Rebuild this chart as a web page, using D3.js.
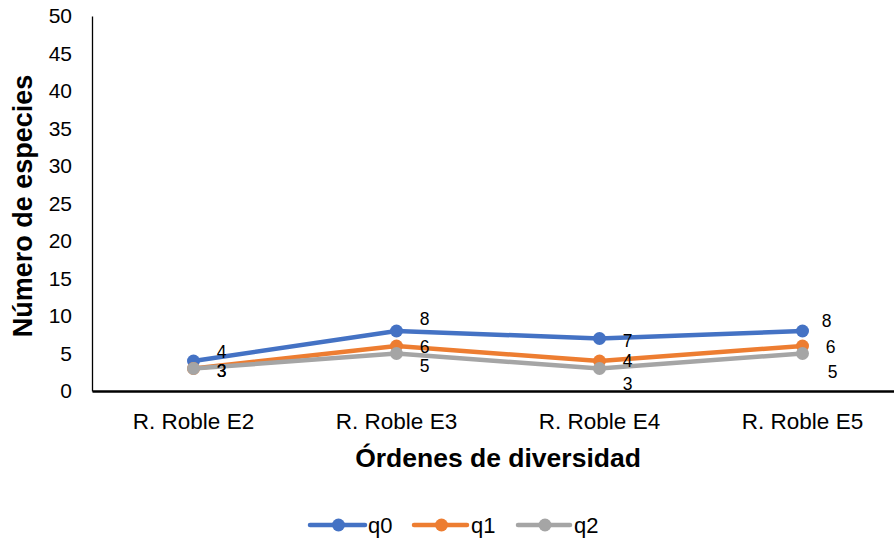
<!DOCTYPE html>
<html><head><meta charset="utf-8">
<script src="https://cdn.jsdelivr.net/npm/d3@7"></script>
<style>body{margin:0;background:#fff;}svg{display:block;font-family:"Liberation Sans",Arial,sans-serif;}</style>
</head><body>
<script>
const categories = ["R. Roble E2","R. Roble E3","R. Roble E4","R. Roble E5"];
const seriesNames = ["q0","q1","q2"];
const q0 = [4, 8, 7, 8];
const q1 = [3, 6, 4, 6];
const q2 = [3, 5, 3, 5];
const yTicks = [0,5,10,15,20,25,30,35,40,45,50];
const colors = ["#4472C4","#ED7D31","#A5A5A5"];
// label nudges (px) per series/point, visual layout only
const labelDy = [[-9,-12,2,-10],[2,1,0,1],[2,12,15,18]];
const labelDx = [[28,28,28,24],[28,28,28,28],[28,28,28,30]];

const W=894,H=544;
const svg=d3.select("body").append("svg").attr("width",W).attr("height",H);
const x=d3.scaleBand().domain(categories).range([92,904]);
const y=d3.scaleLinear().domain([0,50]).range([391,16]);

// y axis
const ya=svg.append("g").attr("transform","translate(92,0)").call(d3.axisLeft(y).tickValues(yTicks).tickSize(0).tickPadding(20));
ya.select(".domain").attr("stroke","#000").attr("stroke-width",1.3);
ya.selectAll("text").attr("font-size",21).attr("fill","#000").attr("font-family","Liberation Sans, Arial, sans-serif");
// x axis
const xa=svg.append("g").attr("transform","translate(0,391)").call(d3.axisBottom(x).tickSize(0).tickPadding(20));
xa.select(".domain").attr("stroke","#000").attr("stroke-width",2.5);
xa.selectAll("text").attr("font-size",22.5).attr("fill","#000").attr("font-family","Liberation Sans, Arial, sans-serif").attr("y",30).attr("dy","0.35em");

const data=[q0,q1,q2];
const line=d3.line().x((d,i)=>x(categories[i])+x.bandwidth()/2).y(d=>y(d));
data.forEach((s,k)=>{
  svg.append("path").attr("d",line(s)).attr("fill","none").attr("stroke",colors[k]).attr("stroke-width",4.5).attr("stroke-linejoin","round");
  svg.selectAll(null).data(s).enter().append("circle")
    .attr("cx",(d,i)=>x(categories[i])+x.bandwidth()/2).attr("cy",d=>y(d)).attr("r",6.5).attr("fill",colors[k]);
});
data.forEach((s,k)=>{
  svg.selectAll(null).data(s).enter().append("text")
    .attr("x",(d,i)=>x(categories[i])+x.bandwidth()/2+labelDx[k][i])
    .attr("y",(d,i)=>y(d)+labelDy[k][i]).attr("dy","0.35em").attr("text-anchor","middle")
    .attr("font-size",17.5).attr("fill","#000").text(d=>d);
});

// titles
svg.append("text").attr("x",498).attr("y",467).attr("text-anchor","middle").attr("font-size",26.5).attr("font-weight","bold").text("Órdenes de diversidad");
svg.append("text").attr("transform","translate(32,206) rotate(-90)").attr("text-anchor","middle").attr("font-size",27).attr("font-weight","bold").text("Número de especies");

// legend
const lg=[{x:310,w:55,t:368},{x:414,w:53,t:471},{x:518,w:52,t:574}];
seriesNames.forEach((n,k)=>{
  const g=svg.append("g").attr("transform",`translate(${lg[k].x},525)`);
  g.append("line").attr("x1",0).attr("x2",lg[k].w).attr("stroke",colors[k]).attr("stroke-width",4.5).attr("stroke-linecap","round");
  g.append("circle").attr("cx",lg[k].w/2+1).attr("r",6.5).attr("fill",colors[k]);
  g.append("text").attr("x",lg[k].t-lg[k].x).attr("dy","0.35em").attr("font-size",22).text(n);
});
</script>
</body></html>
